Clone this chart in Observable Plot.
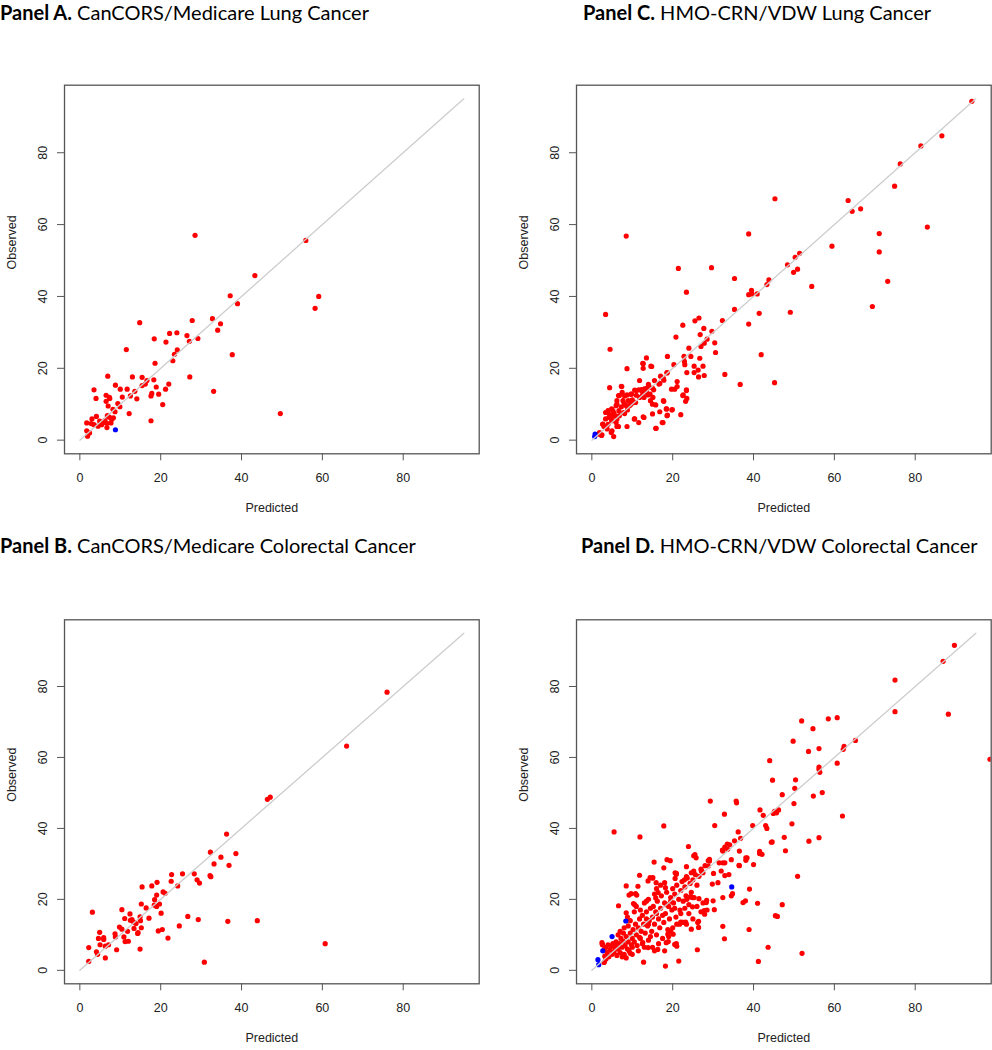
<!DOCTYPE html>
<html><head><meta charset="utf-8">
<script src="https://cdn.jsdelivr.net/npm/d3@7"></script>
<script src="https://cdn.jsdelivr.net/npm/@observablehq/plot@0.6"></script>
<style>
body{margin:0;background:#fff;}
#root{position:relative;width:992px;height:1050px;overflow:hidden;background:#fff;}
.title{position:absolute;font-family:Lato,"Open Sans",sans-serif;font-size:20px;line-height:24px;color:#000;white-space:nowrap;}
.title b{font-weight:700;}
.panel{position:absolute;}
</style></head><body><div id="root"></div>
<script>
// ---- data (Predicted, Observed) ----
const tickValues = [0, 20, 40, 60, 80];
const refLine = [0, 95];
const axisDomain = [-3.8, 98.8];
const groups = ["red", "blue"];

const panelLabels = ["Panel A.", "Panel C.", "Panel B.", "Panel D."];
const panelNames = ["CanCORS/Medicare Lung Cancer", "HMO-CRN/VDW Lung Cancer", "CanCORS/Medicare Colorectal Cancer", "HMO-CRN/VDW Colorectal Cancer"];

const lungCancorsRed = [[28.5,57.0],[55.9,55.6],[43.3,45.8],[59.1,40.0],[58.2,36.7],[37.2,40.2],[39.0,38.0],[37.7,23.8],[32.8,33.8],[34.8,32.4],[34.1,30.6],[27.8,33.3],[14.8,32.7],[24.0,29.9],[22.2,29.7],[26.5,29.1],[29.2,28.3],[27.1,27.5],[18.4,28.2],[21.3,27.3],[11.5,25.2],[24.1,25.1],[23.4,23.9],[23.0,22.1],[18.6,21.4],[6.9,17.8],[13.0,17.6],[15.4,17.5],[27.2,17.6],[18.3,16.8],[16.6,16.6],[16.2,15.6],[22.0,15.6],[8.8,15.3],[15.4,15.2],[18.9,14.8],[3.5,14.0],[10.0,14.2],[11.7,14.2],[21.2,14.2],[33.1,13.6],[13.6,13.6],[17.8,13.0],[19.5,12.8],[17.6,12.3],[6.5,12.5],[12.5,12.3],[10.5,12.0],[7.3,11.9],[4.0,11.6],[14.1,11.5],[6.5,10.8],[20.5,9.9],[9.4,10.2],[7.0,9.5],[9.9,9.3],[12.2,7.4],[49.6,7.4],[8.7,7.9],[8.2,8.6],[17.6,5.4],[4.1,6.6],[6.8,6.8],[3.0,5.9],[1.7,4.8],[4.9,5.3],[5.9,4.9],[7.9,5.8],[7.7,4.8],[6.7,4.7],[3.5,4.3],[4.5,3.9],[5.4,4.3],[6.7,3.5],[1.7,2.6],[2.4,2.0],[1.9,1.1],[7.4,11.6],[5.2,4.6],[2.8,4.6],[6.2,5.5],[7.3,6.4],[8.3,6.2]];
const lungCancorsBlue = [[8.8,2.9]];

const lungHmoRed = [[94.0,94.3],[86.6,84.7],[81.4,81.9],[76.3,76.9],[74.9,70.7],[45.3,67.2],[63.4,66.7],[64.4,63.7],[66.5,64.4],[83.0,59.3],[38.8,57.4],[71.1,57.5],[8.5,56.8],[59.4,54.0],[71.1,52.4],[51.4,52.0],[50.3,50.9],[48.4,48.8],[50.9,47.6],[49.9,46.7],[21.4,47.8],[29.6,48.0],[35.3,45.0],[43.8,44.6],[43.3,43.3],[54.4,42.8],[73.2,44.2],[39.5,41.7],[39.6,40.7],[38.8,40.5],[40.9,40.7],[23.4,41.2],[3.4,35.0],[35.3,36.4],[41.4,35.3],[49.1,35.6],[69.4,37.2],[38.8,32.3],[22.5,32.0],[25.5,33.2],[26.5,34.0],[32.3,33.3],[27.7,31.1],[29.7,30.3],[26.8,29.4],[20.8,28.7],[28.5,28.1],[27.8,27.0],[30.4,27.1],[27.0,26.1],[24.0,25.6],[4.5,25.3],[30.6,24.4],[41.9,23.8],[22.8,23.3],[24.5,23.3],[13.5,22.9],[18.7,23.3],[26.7,22.8],[22.9,21.9],[23.0,21.0],[20.3,21.0],[12.7,21.3],[14.6,20.6],[25.3,20.6],[27.5,20.6],[12.7,20.0],[8.7,19.9],[26.3,19.5],[23.5,18.8],[25.3,18.8],[32.9,18.3],[27.8,18.0],[26.4,17.6],[18.6,18.8],[17.0,17.8],[17.7,17.2],[15.5,16.6],[16.6,15.6],[21.1,16.3],[45.2,16.0],[36.7,15.5],[11.8,16.6],[7.3,15.0],[4.4,14.6],[13.8,14.5],[15.3,14.0],[21.1,14.9],[19.7,14.2],[23.4,14.0],[7.5,13.3],[6.6,12.4],[8.1,12.3],[9.8,12.8],[11.0,13.8],[12.3,13.8],[13.9,12.6],[22.6,12.6],[23.5,11.6],[23.2,10.8],[14.5,11.0],[12.9,11.9],[10.1,10.5],[9.3,9.6],[6.2,10.0],[4.9,8.7],[3.4,7.7],[5.4,6.8],[17.8,10.8],[18.5,8.7],[19.9,8.5],[15.0,7.3],[16.8,7.9],[18.7,7.0],[22.0,7.1],[10.5,5.9],[12.7,6.5],[11.6,4.9],[17.4,4.9],[8.7,3.8],[6.2,3.8],[15.9,3.3],[4.8,2.1],[5.4,1.0],[2.4,1.3],[2.7,4.5],[3.8,3.1],[8.8,8.4],[7.9,7.7],[6.2,5.9],[4.9,5.4],[4.2,6.3],[1.6,1.7],
[7.4,14.9],[10.6,13.9],[11.6,14.0],[12.3,14.1],[13.0,14.3],[13.6,14.4],[14.2,14.7],[15.0,14.5],[9.7,12.8],[8.7,12.6],[6.8,12.4],[6.2,11.0],[7.7,11.0],[10.0,11.2],[11.8,11.9],[12.6,12.8],[13.5,13.3],[14.4,12.8],[15.1,11.9],[6.0,9.6],[7.3,9.3],[8.5,9.6],[9.7,10.0],[10.8,10.5],[6.7,8.2],[5.2,8.2],[4.0,8.2],[4.4,7.1],[5.6,6.8],[6.8,6.8],[8.1,7.4],[3.4,5.9],[4.8,5.9],[6.0,4.9],[2.7,4.4],[4.0,4.4],[5.0,2.6],[2.5,1.5],[1.9,2.1],[6.6,3.8],[10.6,5.9],[12.9,6.3],[15.0,10.0],[15.8,9.8],[17.7,11.0],[18.4,8.7],[18.6,6.8],[19.8,8.4],[15.8,3.3],[17.6,4.9],[20.5,14.2],[23.4,13.8],[22.5,12.4],[16.8,15.8],[17.8,16.7],[18.6,18.7],[12.6,21.4],[14.8,20.5],[9.0,11.0],[11.0,12.5],[8.0,10.2],[5.5,7.5],[3.0,3.8],[14.0,15.5]];
const lungHmoBlue = [[0.8,1.7],[0.7,1.0]];

const crcCancorsRed = [[76.0,78.4],[66.0,63.2],[46.4,48.2],[47.1,48.8],[36.3,38.4],[32.3,33.3],[38.6,32.9],[34.9,31.9],[33.2,30.0],[36.9,29.6],[28.3,27.2],[25.4,27.2],[22.7,27.0],[22.6,25.1],[29.0,25.5],[29.6,24.6],[32.2,26.7],[32.4,26.4],[19.1,24.8],[24.2,23.8],[17.8,23.8],[15.4,23.5],[20.6,22.1],[21.1,21.7],[19.0,21.2],[18.5,19.9],[15.2,18.7],[19.7,18.7],[18.4,18.4],[19.0,18.0],[16.4,17.6],[10.4,17.1],[3.1,16.4],[20.1,16.1],[12.4,15.9],[26.7,15.2],[17.1,14.7],[14.9,15.1],[11.1,14.6],[12.9,14.3],[13.3,13.6],[15.0,14.0],[29.3,14.3],[36.6,13.8],[43.9,14.0],[12.5,14.1],[13.9,13.2],[9.8,12.2],[10.4,11.6],[13.4,11.8],[15.2,12.0],[24.6,12.5],[20.4,11.5],[19.4,11.1],[11.8,11.0],[14.4,10.6],[14.3,10.4],[4.9,10.7],[8.7,10.3],[8.8,9.4],[10.9,9.4],[21.8,9.1],[4.6,9.0],[5.9,9.2],[5.9,8.7],[11.2,8.1],[12.0,8.2],[5.0,7.2],[7.1,7.2],[6.3,6.8],[2.2,6.4],[9.1,5.8],[14.9,6.0],[60.7,7.5],[4.1,5.2],[4.4,4.5],[6.3,3.5],[2.2,2.5],[30.8,2.3]];
const crcCancorsBlue = [];

const crcHmoRed = [[89.7,91.6],[86.9,87.1],[75.0,81.8],[75.0,72.9],[88.2,72.2],[98.5,59.5],[51.9,70.3],[58.5,70.9],[60.7,71.2],[54.7,68.1],[49.8,64.6],[65.2,64.8],[62.4,63.1],[62.2,62.3],[53.6,61.7],[56.2,62.5],[44.0,59.1],[60.7,58.4],[56.2,57.3],[56.2,56.7],[56.4,55.8],[44.7,53.6],[50.4,53.7],[50.2,51.3],[57.0,50.1],[47.1,49.5],[54.8,49.1],[29.3,47.7],[35.7,47.7],[35.8,47.2],[50.0,47.0],[41.6,45.2],[32.8,44.0],[42.4,43.7],[45.7,44.4],[46.2,45.2],[45.2,44.8],[44.9,44.2],[62.0,43.5],[49.5,41.3],[17.8,40.7],[30.4,40.8],[39.8,40.8],[43.0,40.8],[43.3,40.0],[5.5,39.0],[36.2,39.0],[11.9,37.6],[47.6,37.5],[56.2,37.4],[36.8,37.2],[35.3,36.5],[44.6,36.2],[53.7,36.4],[23.9,34.9],[33.5,35.6],[34.1,35.4],[32.9,34.7],[47.9,33.7],[41.5,33.5],[41.5,32.9],[36.5,33.6],[32.3,33.9],[38.1,31.7],[38.1,31.0],[25.5,32.6],[28.8,30.9],[29.1,31.3],[18.6,31.2],[15.4,30.5],[19.4,30.9],[40.0,29.8],[36.4,29.6],[32.9,30.3],[31.5,30.3],[23.4,29.2],[17.8,28.9],[27.2,28.0],[30.1,27.3],[32.0,28.0],[33.9,27.0],[50.9,26.5],[11.8,26.8],[20.6,27.5],[20.9,27.1],[14.4,26.1],[18.0,24.7],[32.9,26.7],[29.8,24.3],[31.2,24.7],[8.5,23.8],[34.8,21.6],[39.0,22.9],[9.7,21.6],[10.8,21.6],[38.0,19.6],[28.4,19.7],[41.0,18.9],[47.1,18.5],[6.6,18.2],[10.3,18.8],[30.3,17.1],[27.8,16.8],[24.9,17.9],[45.4,15.4],[45.9,15.2],[26.4,13.8],[26.4,12.1],[32.4,12.4],[38.9,11.5],[32.8,8.9],[26.1,5.8],[43.6,6.5],[52.0,4.8],[41.2,2.5],[21.5,2.6],[12.8,2.3],[18.2,1.2],[3.1,2.4],[24.4,20.7],[22.0,13.6],[23.2,13.6],[20.9,7.5],[18.9,8.1],[24.9,20.5],[25.2,32.3],[25.8,31.7],[32.4,33.6],[33.6,34.1],[20.9,27.3],[20.6,25.9],[23.4,26.4],[22.9,25.5],[25.2,28.0],[24.6,27.5],[27.1,28.0],[28.8,29.4],[29.1,30.8],[32.4,30.3],[34.5,31.2],[36.5,29.5],[38.4,31.7],[42.1,32.7],[44.4,36.1],[9.2,21.2],[11.1,21.2],[11.4,23.7],[13.9,25.2],[15.1,26.1],[15.9,24.7],[18.2,23.3],[16.4,21.9],[15.8,20.4],[13.5,19.5],[10.6,18.5],[8.5,16.2],[2.6,7.4],[3.1,6.0],[11.8,9.3],[12.6,7.8],[13.9,6.4],[15.5,5.5],[16.3,5.9],[18.4,7.8],[18.8,10.2],[20.1,10.2],[21.7,13.0],[22.5,13.5],[23.4,13.0],[24.6,11.6],[26.2,13.5],[27.9,15.8],[28.3,19.1],[30.0,19.6],[32.4,20.5],[34.5,21.0],[37.4,19.1],
[3.2,4.0],[3.5,6.5],[3.8,5.0],[4.0,7.2],[4.2,3.8],[4.5,5.8],[4.8,6.8],[5.0,4.5],[5.2,7.5],[5.5,5.2],[5.8,6.2],[6.0,8.0],[6.2,4.2],[2.5,7.8],[2.6,7.2],[3.0,2.2],[3.5,3.2],
[6.5,6.0],[6.8,7.5],[7.0,5.0],[7.2,9.0],[7.5,6.5],[7.8,8.2],[8.0,4.5],[8.2,7.0],[8.5,9.5],[8.8,6.0],[9.0,8.0],[9.2,5.5],[9.5,10.5],[9.8,7.2],[10.0,9.0],[7.0,11.0],[8.0,12.0],[6.5,10.0],[9.0,12.5],[7.5,3.8],[8.5,3.5],[9.5,4.8],[10.0,6.5],[6.0,6.8],[7.8,10.5],[8.8,15.0],[9.5,14.0],
[10.2,11.5],[10.5,8.0],[10.8,13.0],[11.0,10.0],[11.2,7.0],[11.5,12.0],[11.8,14.5],[12.0,9.0],[12.2,11.0],[12.5,15.5],[12.8,13.0],[13.0,6.5],[13.2,10.5],[13.5,16.5],[13.8,12.5],[14.0,8.5],[14.2,14.0],[14.5,17.5],[14.8,11.0],[15.0,15.0],[10.5,16.5],[11.0,18.0],[12.0,17.0],[13.0,19.0],[14.0,20.0],[14.5,9.5],[10.0,4.5],[11.5,5.5],[12.5,7.5],[15.0,6.5],[14.0,13.0],[13.5,14.5],
[15.2,18.0],[15.5,13.0],[15.8,16.5],[16.0,10.0],[16.2,19.5],[16.5,14.5],[16.8,12.0],[17.0,17.5],[17.2,21.0],[17.5,15.5],[17.8,13.5],[18.0,19.0],[18.2,16.0],[18.5,22.0],[18.8,11.5],[19.0,18.0],[19.2,14.5],[19.5,20.5],[19.8,17.0],[20.0,23.0],[15.5,21.5],[16.0,23.0],[17.0,24.0],[15.0,26.0],[16.5,7.5],[17.5,9.0],[18.0,5.5],[19.0,9.5],[20.0,12.0],[16.0,16.0],[18.5,18.5],[19.5,19.5],
[20.2,19.0],[20.5,21.5],[20.8,15.0],[21.0,24.0],[21.5,20.0],[21.8,17.0],[22.0,22.5],[22.3,25.0],[22.6,19.5],[23.0,23.5],[23.3,21.0],[23.6,26.0],[24.0,18.5],[24.3,24.5],[24.6,22.0],[25.0,25.5],[25.3,20.5],[25.6,27.0],[26.0,24.0],[26.5,26.5],[27.0,28.5],[27.5,27.5],[28.0,29.5],[20.5,17.5],[21.0,13.0],[22.0,16.0],[23.0,17.5],[24.0,16.0],[25.0,14.5],[26.0,18.0],[27.0,16.5],[28.5,17.0],[21.0,6.8],[20.5,7.3],[19.5,11.0],[22.5,13.5],[23.5,20.0],[24.5,20.8],[26.5,20.2],[27.5,19.0]];
const crcHmoBlue = [[34.6,23.5],[8.4,13.9],[5.0,9.5],[2.7,5.5],[1.5,3.0],[1.7,1.6]];

// ---- layout ----
const root = document.getElementById("root");
const layouts = [
  {red: lungCancorsRed, blue: lungCancorsBlue, left: 0,   top: 30,  titleLeft: 0,   titleTop: 0,     height: 500, mt: 54.7, mb: 76.7, ml: 64, mr: 17.3},
  {red: lungHmoRed,     blue: lungHmoBlue,     left: 496, top: 30,  titleLeft: 583, titleTop: 0,     height: 500, mt: 54.7, mb: 76.7, ml: 80, mr: 1.3},
  {red: crcCancorsRed,  blue: crcCancorsBlue,  left: 0,   top: 560, titleLeft: 0,   titleTop: 533,   height: 490, mt: 59.3, mb: 66.7, ml: 64, mr: 17.3},
  {red: crcHmoRed,      blue: crcHmoBlue,      left: 496, top: 560, titleLeft: 581, titleTop: 533,   height: 490, mt: 59.3, mb: 66.7, ml: 80, mr: 1.3}
];

layouts.forEach((L, i) => {
  const t = document.createElement("div");
  t.className = "title";
  t.style.left = L.titleLeft + "px";
  t.style.top = L.titleTop + "px";
  const b = document.createElement("b");
  b.textContent = panelLabels[i];
  t.appendChild(b);
  t.appendChild(document.createTextNode(" " + panelNames[i]));
  root.appendChild(t);

  const rows = [
    ...L.red.map(([p, o]) => ({p, o, g: groups[0]})),
    ...L.blue.map(([p, o]) => ({p, o, g: groups[1]}))
  ];
  const chart = Plot.plot({
    width: 496, height: L.height,
    marginLeft: L.ml, marginRight: L.mr, marginTop: L.mt, marginBottom: L.mb,
    x: {domain: axisDomain},
    y: {domain: axisDomain},
    color: {domain: groups, range: ["#ff0000", "#0000ff"]},
    style: {fontFamily: '"Liberation Sans", Arial, sans-serif', fontSize: "12.5px", color: "#222", background: "transparent", overflow: "visible"},
    marks: [
      Plot.dot(rows, {x: "p", y: "o", r: 2.6, fill: "g", clip: true}),
      Plot.line(refLine.map(v => ({v})), {x: "v", y: "v", stroke: "#cdcdcd", strokeWidth: 1.3}),
      Plot.frame({stroke: "#555", strokeWidth: 1.3}),
      Plot.axisX(tickValues, {tickSize: 7, tickPadding: 12, label: null, stroke: "#555", fill: "#222"}),
      Plot.axisY(tickValues, {tickSize: 7, tickPadding: 10.5, tickRotate: -90, label: null, stroke: "#555", fill: "#222"}),
      Plot.text(["Predicted"], {text: d => d, frameAnchor: "bottom", dy: 54.4, lineAnchor: "middle", fill: "#222"}),
      Plot.text(["Observed"], {text: d => d, frameAnchor: "left", dx: -53, rotate: -90, lineAnchor: "middle", fill: "#222"})
    ]
  });
  chart.classList.add("panel");
  chart.style.left = L.left + "px";
  chart.style.top = L.top + "px";
  root.appendChild(chart);
});
</script></body></html>
